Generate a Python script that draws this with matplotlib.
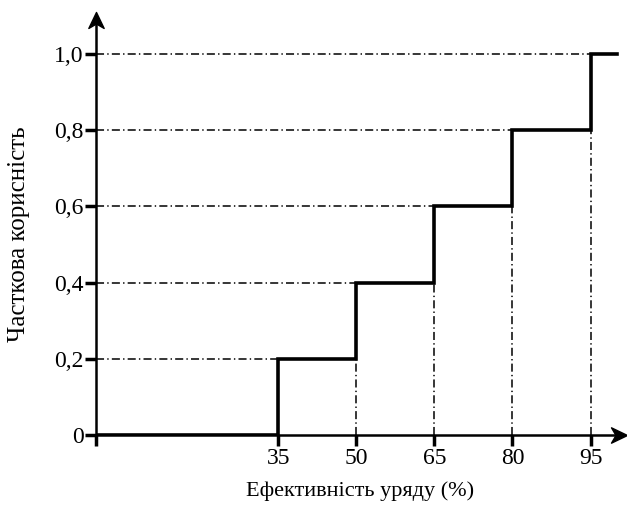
import matplotlib.pyplot as plt
from matplotlib.path import Path
from matplotlib.transforms import Affine2D

plt.rcParams["font.family"] = ["Liberation Serif", "DejaVu Serif"]
plt.rcParams["lines.scale_dashes"] = False

# step breakpoints (efficiency, %) and partial utility after each break
efficiency = [0, 35, 50, 65, 80, 95, 100]
utility = [0.0, 0.2, 0.4, 0.6, 0.8, 1.0, 1.0]

x_ticks = [0, 35, 50, 65, 80, 95]
x_labels = ["", "35", "50", "65", "80", "95"]
y_ticks = [0.0, 0.2, 0.4, 0.6, 0.8, 1.0]
y_labels = ["0", "0,2", "0,4", "0,6", "0,8", "1,0"]

x_label = "Ефективність уряду (%)"
y_label = "Часткова корисність"

figure = plt.figure(figsize=(6.27, 5.09), dpi=100)
axis = figure.add_axes([96 / 627, 74 / 509, 531 / 627, 423 / 509])
axis.set_xlim(0, 102)
axis.set_ylim(0, 1.11)

dashdot = (0, (5.8, 2.3, 1.0, 2.3))

# guide lines to the steps
for i in range(1, len(efficiency) - 1):
    axis.plot([0, efficiency[i]], [utility[i], utility[i]],
              color="black", linewidth=1.1, linestyle=dashdot, zorder=2)
    if i > 1:
        axis.plot([efficiency[i], efficiency[i]], [0, utility[i - 1]],
                  color="black", linewidth=1.1, linestyle=dashdot, zorder=2)

axis.plot(efficiency, utility, drawstyle="steps-post", color="black",
          linewidth=2.6, solid_joinstyle="miter", zorder=3)

for side in ["top", "right", "left", "bottom"]:
    axis.spines[side].set_visible(False)

# axes with stealth arrow heads
head = Path([(0, 0), (-0.48, -1), (0, -0.72), (0.48, -1), (0, 0)],
            [Path.MOVETO, Path.LINETO, Path.LINETO, Path.LINETO, Path.CLOSEPOLY])
head_right = head.transformed(Affine2D().rotate_deg(-90))
axis.plot([0, 0.985], [0, 0], transform=axis.transAxes, color="black",
          linewidth=1.8, clip_on=False, zorder=4)
axis.plot([0, 0], [0, 0.985], transform=axis.transAxes, color="black",
          linewidth=1.8, clip_on=False, zorder=4)
axis.plot([1], [0], transform=axis.transAxes, marker=head_right, markersize=23,
          color="black", linestyle="none", clip_on=False, zorder=5)
axis.plot([0], [1], transform=axis.transAxes, marker=head, markersize=23,
          color="black", linestyle="none", clip_on=False, zorder=5)

axis.set_xticks(x_ticks)
axis.set_xticklabels(x_labels)
axis.set_yticks(y_ticks)
axis.set_yticklabels(y_labels)
axis.tick_params(direction="out", length=8, width=2.5, labelsize=17, pad=1)

axis.set_xlabel(x_label, fontsize=16)
axis.set_ylabel(y_label, fontsize=18)
axis.xaxis.set_label_coords(0.497, -0.11)
axis.yaxis.set_label_coords(-0.125, 0.475)

figure.savefig("out.png", dpi=100)
